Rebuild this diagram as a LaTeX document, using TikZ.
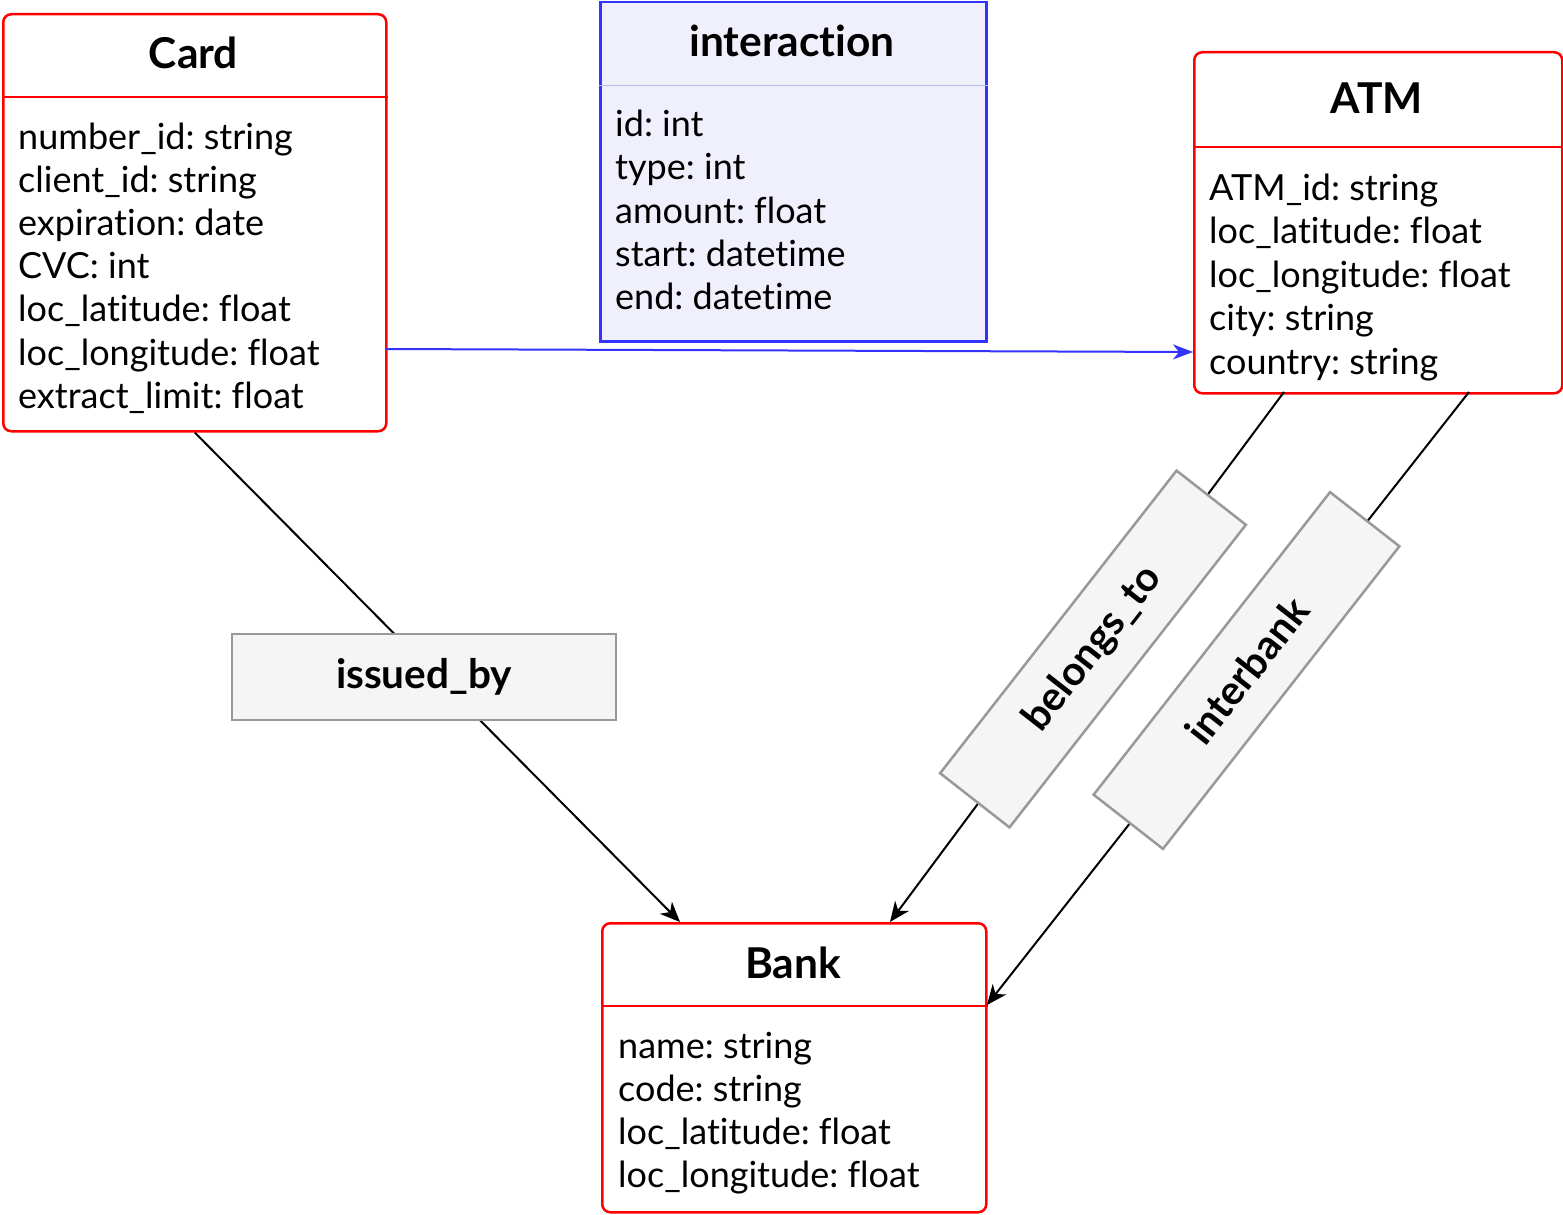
\documentclass[tikz,border=0pt]{standalone}
\usepackage{fontspec}
\setmainfont{Lato}[Ligatures=NoCommon]
\usetikzlibrary{arrows.meta,calc}
\definecolor{boxred}{RGB}{255,0,0}
\definecolor{iblue}{RGB}{51,51,255}
\definecolor{ifill}{RGB}{240,240,252}
\definecolor{isep}{RGB}{180,190,230}
\definecolor{lblfill}{RGB}{245,245,245}
\definecolor{lblgray}{RGB}{153,153,153}
\frenchspacing
\tikzset{
  classbox/.style={draw=boxred, line width=2.5pt, rounded corners=8pt, fill=white, inner sep=0pt, anchor=north west},
  sepline/.style={draw=boxred, line width=2.5pt},
  ibox/.style={draw=iblue, line width=2.5pt, fill=ifill, inner sep=0pt, anchor=north west},
  titletext/.style={font=\fontsize{42.5}{50}\selectfont\bfseries, inner sep=0pt, anchor=base},
  attr/.style={font=\fontsize{36}{42}\selectfont, inner sep=0pt, anchor=base west},
  lbl/.style={draw=lblgray, line width=2.5pt, fill=lblfill, inner sep=0pt, font=\fontsize{40.5}{48}\selectfont\bfseries},
  edge/.style={draw=black, line width=2pt, -{Stealth[length=20pt,width=17pt,inset=6pt]}},
  bluearrow/.style={draw=iblue, line width=2pt, -{Stealth[length=20pt,width=15pt,inset=6pt]}}
}
\begin{document}
\begin{tikzpicture}[x=1pt,y=-1pt]
\useasboundingbox (0,0) rectangle (1563,1215);
\fill[white] (0,0) rectangle (1563,1215);

% connector anchor points
\coordinate (cardR) at (385,349);
\coordinate (atmL) at (1193,352);
\coordinate (bankA) at (680,922);
\coordinate (atmB1) at (1284,392);
\coordinate (bankB) at (890,922);
\coordinate (atmB2) at (1469,392);
\coordinate (bankC) at (987,1005);

% Card
\node[classbox, minimum width=383pt, minimum height=417pt] (card) at (2,13) {};
\draw[sepline] (card.west |- 0,97) -- (card.east |- 0,97);
\node[titletext] (card-t) at (193.5,69) {Card};
\foreach \t [count=\i] in {number\_id: string, client\_id: string, expiration: date, CVC: int, loc\_latitude: float, loc\_longitude: float, extract\_limit: float}
  \node[attr] (card-\i) at (18,{149+43.2*(\i-1)}) {\t};

% interaction
\node[ibox, minimum width=386pt, minimum height=339pt] (inter) at (599,1) {};
\draw[draw=isep, line width=1pt] (inter.west |- 0,85) -- (inter.east |- 0,85);
\node[titletext] (inter-t) at (792,57) {interaction};
\foreach \t [count=\i] in {id: int, type: int, amount: float, start: datetime, end: datetime}
  \node[attr] (inter-\i) at (615,{136.7+43.25*(\i-1)}) {\t};

% ATM
\node[classbox, minimum width=368pt, minimum height=341pt] (atm) at (1193,51) {};
\draw[sepline] (atm.west |- 0,147) -- (atm.east |- 0,147);
\node[titletext] (atm-t) at (1377,113) {ATM};
\foreach \t [count=\i] in {ATM\_id: string, loc\_latitude: float, loc\_longitude: float, city: string, country: string}
  \node[attr] (atm-\i) at (1209,{200+43.5*(\i-1)}) {\t};

% Bank
\node[classbox, minimum width=384pt, minimum height=289pt] (bank) at (601,922) {};
\draw[sepline] (bank.west |- 0,1006) -- (bank.east |- 0,1006);
\node[titletext] (bank-t) at (793,978) {Bank};
\foreach \t [count=\i] in {name: string, code: string, loc\_latitude: float, loc\_longitude: float}
  \node[attr] (bank-\i) at (618,{1058+43*(\i-1)}) {\t};

% connectors
\draw[bluearrow] (cardR) -- (atmL);
\draw[edge] (card.south) -- (bankA);
\draw[edge] (atmB1) -- (bankB);
\draw[edge] (atmB2) -- (bankC);

% relation labels
\node[lbl, minimum width=384pt, minimum height=86pt] (issued) at (424,677) {issued\_by};
\node[lbl, minimum width=384pt, minimum height=88pt, rotate=52] (belongs) at (1093,649) {belongs\_to};
\node[lbl, minimum width=384pt, minimum height=88pt, rotate=52] (interbank) at (1246.5,670.5) {interbank};
\end{tikzpicture}
\end{document}
